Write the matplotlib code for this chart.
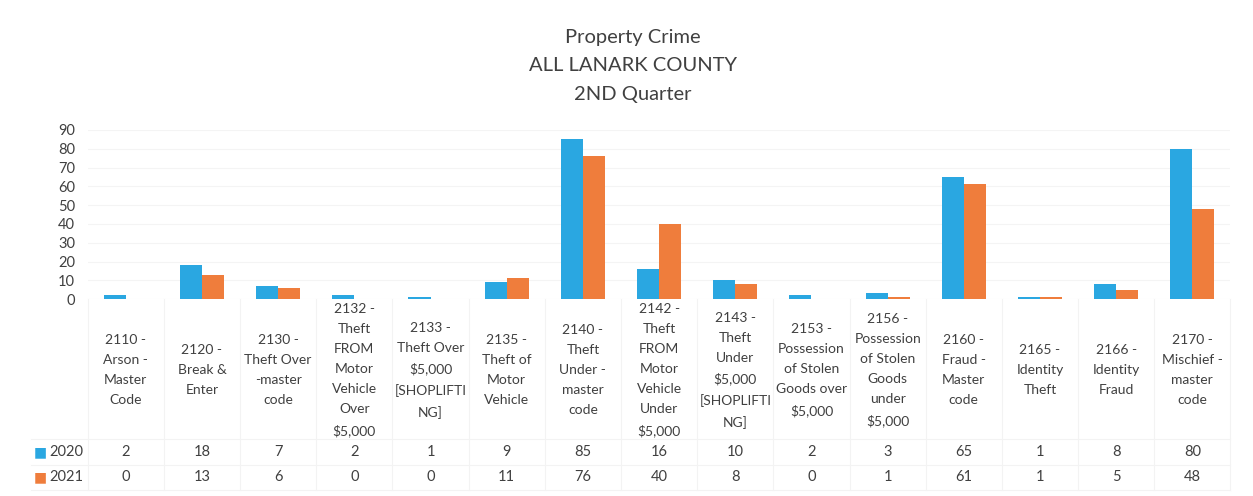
import numpy as np
import matplotlib.pyplot as plt
import matplotlib.transforms as mtransforms

plt.rcParams.update({
    "font.family": ["Lato", "DejaVu Sans"],
    "font.size": 10,
})

categories = [
    "2110 -\nArson -\nMaster\nCode",
    "2120 -\nBreak &\nEnter",
    "2130 -\nTheft Over\n-master\ncode",
    "2132 -\nTheft\nFROM\nMotor\nVehicle\nOver\n$5,000",
    "2133 -\nTheft Over\n$5,000\n[SHOPLIFTI\nNG]",
    "2135 -\nTheft of\nMotor\nVehicle",
    "2140 -\nTheft\nUnder -\nmaster\ncode",
    "2142 -\nTheft\nFROM\nMotor\nVehicle\nUnder\n$5,000",
    "2143 -\nTheft\nUnder\n$5,000\n[SHOPLIFTI\nNG]",
    "2153 -\nPossession\nof Stolen\nGoods over\n$5,000",
    "2156 -\nPossession\nof Stolen\nGoods\nunder\n$5,000",
    "2160 -\nFraud -\nMaster\ncode",
    "2165 -\nIdentity\nTheft",
    "2166 -\nIdentity\nFraud",
    "2170 -\nMischief -\nmaster\ncode",
]
v2020 = [2, 18, 7, 2, 1, 9, 85, 16, 10, 2, 3, 65, 1, 8, 80]
v2021 = [0, 13, 6, 0, 0, 11, 76, 40, 8, 0, 1, 61, 1, 5, 48]
series = ["2020", "2021"]
colors = ["#2AA7E1", "#EF7D3C"]
yticks = [0, 10, 20, 30, 40, 50, 60, 70, 80, 90]

fig = plt.figure(figsize=(12.53, 4.96), dpi=100)
ax = fig.add_axes([0.070, 0.397, 0.912, 0.341])

x = np.arange(len(categories))
w = 0.29
ax.bar(x - w/2, v2020, w, color=colors[0])
ax.bar(x + w/2, v2021, w, color=colors[1])

ax.set_xlim(-0.5, len(categories) - 0.5)
ax.set_ylim(0, 90)
ax.set_yticks(yticks)
ax.tick_params(axis='y', length=0, labelsize=10.5, colors='#404040', pad=9)
ax.set_xticks([])
ax.grid(axis='y', color='#F4F4F4', linewidth=0.8)
ax.set_axisbelow(True)
for s in ax.spines.values():
    s.set_visible(False)

trans = mtransforms.blended_transform_factory(ax.transData, ax.transAxes)
for i, lab in enumerate(categories):
    ax.text(i, -0.42, lab, transform=trans, ha='center', va='center',
            fontsize=10, color='#404040', linespacing=1.8)
    ax.text(i, -0.905, str(v2020[i]), transform=trans, ha='center', va='center',
            fontsize=10.5, color='#404040')
    ax.text(i, -1.053, str(v2021[i]), transform=trans, ha='center', va='center',
            fontsize=10.5, color='#404040')

# table legend keys
for row, (name, c) in enumerate(zip(series, colors)):
    yy = -0.905 - row * 0.148
    ax.text(-1.12, yy, "\u25A0", transform=trans, ha='center', va='center',
            fontsize=10, color=c)
    ax.text(-1.0, yy, name, transform=trans, ha='left', va='center',
            fontsize=10.5, color='#404040')

# faint table lines
for b in np.arange(-0.5, len(categories), 1.0):
    ax.plot([b, b], [0, -1.13], transform=trans, color='#F3F3F3',
            linewidth=0.8, clip_on=False)
for yy in [-0.83, -0.98, -1.13]:
    ax.plot([-1.25, len(categories) - 0.5], [yy, yy], transform=trans,
            color='#F3F3F3', linewidth=0.8, clip_on=False)

fig.text(0.505, 0.867, "Property Crime\nALL LANARK COUNTY\n2ND Quarter",
         ha='center', va='center', fontsize=14.5, color='#404040',
         linespacing=1.85)

fig.savefig("out.png", dpi=100)
